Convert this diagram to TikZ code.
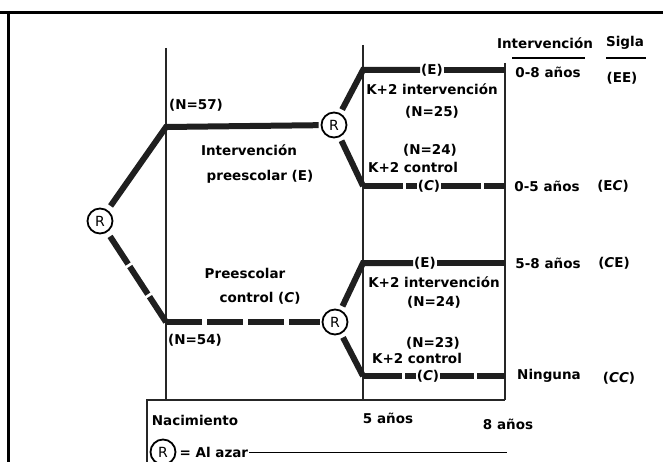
\documentclass[tikz,border=0pt]{standalone}
\usepackage{fontspec}
\setmainfont{DejaVu Sans}
\usetikzlibrary{positioning}
\begin{document}
\begin{tikzpicture}[x=1pt, y=-1pt,
    every node/.style={font=\bfseries\fontsize{13.5}{15}\selectfont, inner sep=1pt},
    arm/.style={line width=6pt, black!88},
    rule/.style={line width=1.3pt, black!85},
    azar/.style={draw, circle, line width=1.8pt, minimum size=25pt, inner sep=0pt, font=\fontsize{14}{15}\selectfont}]
    \useasboundingbox (0,0) rectangle (663,462);
    \draw[line width=3pt] (0,12.5) -- (663,12.5);
    \draw[line width=3pt] (8,11) -- (8,462);
    \foreach \x/\t in {166/48, 363/45, 505/63}{
        \draw[rule] (\x,\t) -- (\x,400);
    }
    \draw[rule] (147,462) -- (147,400) -- (505,400);
    % random assignment points
    \node[azar] (rL) at (100,221) {R};
    \node[azar] (rE) at (334,125) {R};
    \node[azar] (rC) at (335,322) {R};
    \coordinate (nE) at (166,127);
    \coordinate (nC) at (166,322);
    \coordinate (eeS) at (363,70);
    \coordinate (ecS) at (363,186);
    \coordinate (ceS) at (363,263);
    \coordinate (ccS) at (363,376);
    \coordinate (eeT) at (505,70);
    \coordinate (ecT) at (505,186);
    \coordinate (ceT) at (505,263);
    \coordinate (ccT) at (505,376);
    \node (eeG) at (432,70) {(E)};
    \node (ecG) at (429,186) {(\textit{C})};
    \node (ceG) at (425,263) {(E)};
    \node (ccG) at (428,376) {(\textit{C})};
    \draw[arm, shorten <=5pt, shorten >=2pt] (rL) -- (nE) -- (rE);
    \draw[arm, dash pattern=on 33pt off 3pt, shorten <=5pt] (rL) -- (nC);
    \draw[arm, dash pattern=on 36pt off 5pt, shorten >=2pt] (nC) -- (rC);
    \draw[arm, shorten <=4pt] (rE) -- (eeS) -- (eeG);
    \draw[arm] (eeG) -- (eeT);
    \draw[arm, shorten <=4pt] (rE) -- (ecS);
    \draw[arm, dash pattern=on 40pt off 3pt] (ecS) -- (ecG);
    \draw[arm, dash pattern=on 40pt off 3pt] (ecG) -- (ecT);
    \draw[arm, shorten <=4pt] (rC) -- (ceS) -- (ceG);
    \draw[arm] (ceG) -- (ceT);
    \draw[arm, shorten <=4pt] (rC) -- (ccS);
    \draw[arm, dash pattern=on 39pt off 3pt] (ccS) -- (ccG);
    \draw[arm, dash pattern=on 34pt off 3pt] (ccG) -- (ccT);
    % group labels
    \node (n57) at (196,105) {(N=57)};
    \node (n54) at (195,340) {(N=54)};
    \node (tE1) at (249,150) {Intervención};
    \node (tE2) at (260,177) {preescolar (E)};
    \node (tC1) at (245,273) {Preescolar};
    \node (tC2) at (260,298) {control (\textit{C})};
    \node (kEE) at (432,89) {K+2 intervención};
    \node (n25) at (432,112) {(N=25)};
    \node (n24a) at (430,150) {(N=24)};
    \node (kEC) at (413,167) {K+2 control};
    \node (kCE) at (434,282) {K+2 intervención};
    \node (n24b) at (434,302) {(N=24)};
    \node (n23) at (433,343) {(N=23)};
    \node (kCC) at (417,358) {K+2 control};
    % right columns
    \node (hIntv) at (545,43) {Intervención};
    \node (hSigla) at (625,43) {Sigla};
    \draw[line width=1.6pt] (512,58) -- (585,58);
    \draw[line width=1.6pt] (606,58) -- (646,58);
    \node (a08) at (548,72) {0-8 años};
    \node (sEE) at (622,78) {(EE)};
    \node (a05) at (547,186) {0-5 años};
    \node (sEC) at (613,186) {(E\textit{C})};
    \node (a58) at (548,263) {5-8 años};
    \node (sCE) at (614,263) {(\textit{C}E)};
    \node (aNo) at (549,376) {Ninguna};
    \node (sCC) at (619,378) {(\textit{CC})};
    % time axis
    \node (birth) at (195,420) {Nacimiento};
    \node (y5) at (388,418) {5 años};
    \node (y8) at (508,424) {8 años};
    \node[azar] (rKey) at (163,452) {R};
    \node[right=2pt of rKey] (key) {= Al azar};
    \coordinate (keyT) at (507,449);
    \draw[line width=1pt] (key.east) -- (keyT |- key.east);
\end{tikzpicture}
\end{document}
